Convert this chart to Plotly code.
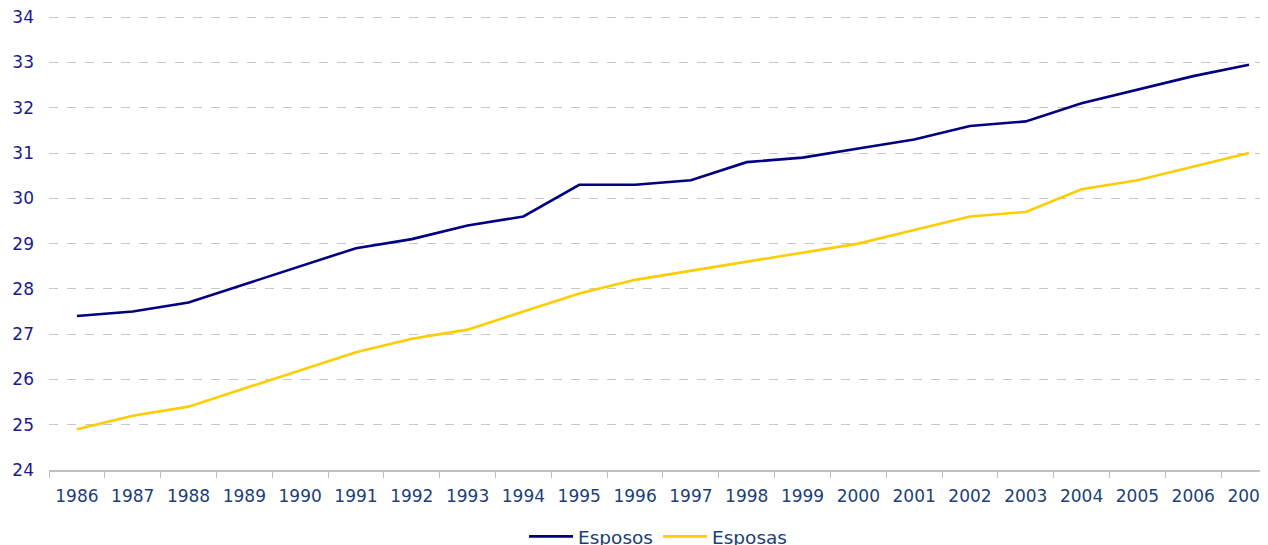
import plotly.graph_objects as go

years = [str(y) for y in range(1986, 2008)]
esposos = [27.4, 27.5, 27.7, 28.1, 28.5, 28.9, 29.1, 29.4, 29.6, 30.3, 30.3,
           30.4, 30.8, 30.9, 31.1, 31.3, 31.6, 31.7, 32.1, 32.4, 32.7, 32.95]
esposas = [24.9, 25.2, 25.4, 25.8, 26.2, 26.6, 26.9, 27.1, 27.5, 27.9, 28.2,
           28.4, 28.6, 28.8, 29.0, 29.3, 29.6, 29.7, 30.2, 30.4, 30.7, 31.0]
y_ticks = list(range(24, 35))

fig = go.Figure()
fig.add_trace(go.Scatter(x=years, y=esposos, mode="lines", name="Esposos",
                         line=dict(color="#000080", width=2.6)))
fig.add_trace(go.Scatter(x=years, y=esposas, mode="lines", name="Esposas",
                         line=dict(color="#FFCC00", width=2.6)))

fig.update_layout(
    width=1260, height=537,
    margin=dict(l=41, r=0, t=7, b=75, autoexpand=False),
    plot_bgcolor="white", paper_bgcolor="white",
    font=dict(family="DejaVu Sans", size=17, color="#1c3f78"),
    showlegend=True,
    legend=dict(orientation="h", x=0.5, xanchor="center", y=-0.147, yanchor="middle",
                font=dict(size=18.5, color="#1c3f78"), itemwidth=44, traceorder="normal"),
    xaxis=dict(type="category", range=[-0.5, 21.34], showgrid=False, automargin=False,
               showline=True, linecolor="#c0c0c0", linewidth=2,
               ticks="outside", tickson="boundaries", ticklen=6, tickcolor="#c0c0c0",
               ticklabelstandoff=10,
               tickfont=dict(size=17, color="#1c3f78"), fixedrange=True),
    yaxis=dict(range=[24, 34.05], tickvals=y_ticks, showgrid=True, automargin=False,
               gridcolor="#c8c8c8", griddash="dash", gridwidth=1,
               zeroline=False, showline=False, ticks="", ticklabeloverflow="allow",
               tickfont=dict(size=17, color="#1b1b8a"), ticklabelstandoff=14),
)

fig.write_html("out.html")
